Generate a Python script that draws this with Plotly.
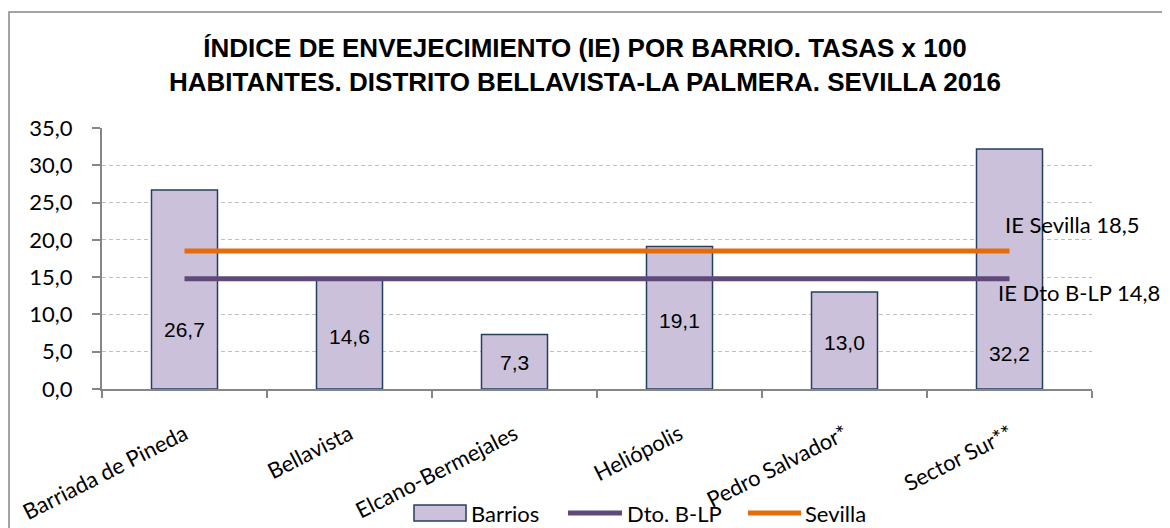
import plotly.graph_objects as go

categories = ["Barriada de Pineda", "Bellavista", "Elcano-Bermejales",
              "Heliópolis", "Pedro Salvador*", "Sector Sur**"]
barrios = [26.7, 14.6, 7.3, 19.1, 13.0, 32.2]
dto_value = 14.8
sevilla_value = 18.5
y_ticks = [0, 5, 10, 15, 20, 25, 30, 35]

# vertical positions (data units) of the value labels inside the bars
label_y = [8.0, 7.1, 3.5, 9.2, 6.2, 4.7]

CAL = "Lato, 'Open Sans', sans-serif"
ARIAL = "'Liberation Sans', Arial, sans-serif"
AXIS_GREY = "#868686"
BAR_FILL = "#CCC1DA"
BAR_LINE = "#243F60"
DTO_COL = "#5F497A"
SEV_COL = "#E46C0A"

# the page body has an 8px margin; layout below is given in page pixels
OFF = 8
W, H = 1170 - OFF, 528 - OFF
PL, PR, PT, PB = 102 - OFF, 1092 - OFF, 128 - OFF, 389 - OFF


def px(xpage):
    return (xpage - OFF - PL) / (PR - PL)


def py(ypage):
    return (PB - (ypage - OFF)) / (PB - PT)


fig = go.Figure()
fig.add_trace(go.Bar(
    x=categories, y=barrios, name="Barrios", width=0.4,
    marker=dict(color=BAR_FILL, line=dict(color=BAR_LINE, width=1.5)),
    showlegend=False,
))
fig.add_trace(go.Scatter(
    x=categories, y=[dto_value] * len(categories), name="Dto. B-LP",
    mode="lines", line=dict(color=DTO_COL, width=5), showlegend=False,
))
fig.add_trace(go.Scatter(
    x=categories, y=[sevilla_value] * len(categories), name="Sevilla",
    mode="lines", line=dict(color=SEV_COL, width=5), showlegend=False,
))

for c, v, ly in zip(categories, barrios, label_y):
    fig.add_annotation(x=c, y=ly, text=f"{v:.1f}".replace(".", ","),
                       showarrow=False, font=dict(family=ARIAL, size=21, color="#000000"),
                       xanchor="center", yanchor="middle")

fig.add_annotation(xref="paper", x=px(1003), y=22.1, xanchor="left", yanchor="middle",
                   text=f"IE Sevilla {sevilla_value:.1f}".replace(".", ","), showarrow=False,
                   font=dict(family=CAL, size=22, color="#000000"))
fig.add_annotation(xref="paper", x=px(996), y=12.9, xanchor="left", yanchor="middle",
                   text=f"IE Dto B-LP {dto_value:.1f}".replace(".", ","), showarrow=False,
                   font=dict(family=CAL, size=22, color="#000000"))

# outer chart border
fig.add_shape(type="rect", xref="paper", yref="paper",
              x0=px(9), x1=px(1200), y0=py(560), y1=py(12),
              line=dict(color=AXIS_GREY, width=1.5), layer="below")

# legend (drawn manually to keep the wide bar swatch)
LEG_Y = 513
fig.add_shape(type="rect", xref="paper", yref="paper",
              x0=px(414), x1=px(466), y0=py(LEG_Y + 8), y1=py(LEG_Y - 8),
              fillcolor=BAR_FILL, line=dict(color=BAR_LINE, width=1.5))
fig.add_annotation(xref="paper", yref="paper", x=px(469), y=py(LEG_Y),
                   xanchor="left", yanchor="middle", text="Barrios", showarrow=False,
                   font=dict(family=CAL, size=22, color="#000000"))
fig.add_shape(type="line", xref="paper", yref="paper",
              x0=px(568), x1=px(622), y0=py(LEG_Y), y1=py(LEG_Y),
              line=dict(color=DTO_COL, width=5))
fig.add_annotation(xref="paper", yref="paper", x=px(625), y=py(LEG_Y),
                   xanchor="left", yanchor="middle", text="Dto. B-LP", showarrow=False,
                   font=dict(family=CAL, size=22, color="#000000"))
fig.add_shape(type="line", xref="paper", yref="paper",
              x0=px(748), x1=px(801), y0=py(LEG_Y), y1=py(LEG_Y),
              line=dict(color=SEV_COL, width=5))
fig.add_annotation(xref="paper", yref="paper", x=px(803), y=py(LEG_Y),
                   xanchor="left", yanchor="middle", text="Sevilla", showarrow=False,
                   font=dict(family=CAL, size=22, color="#000000"))

fig.update_layout(
    width=W, height=H,
    margin=dict(l=PL, r=W - PR, t=PT, b=H - PB, autoexpand=False),
    paper_bgcolor="white", plot_bgcolor="white",
    separators=",.",
    title=dict(text="ÍNDICE DE ENVEJECIMIENTO (IE) POR BARRIO. TASAS x 100<br>"
                    "HABITANTES. DISTRITO BELLAVISTA-LA PALMERA. SEVILLA 2016",
               x=(585 - OFF) / W, xanchor="center", y=1 - 49 / H, yanchor="middle",
               font=dict(family=ARIAL, size=26, color="#000000", weight="bold")),
    showlegend=False,
    bargap=0.6,
)
fig.update_xaxes(
    type="category", range=[-0.5, 5.5], automargin=False,
    showline=True, linecolor=AXIS_GREY, linewidth=2,
    ticks="outside", tickson="boundaries", ticklen=7, tickcolor=AXIS_GREY, tickwidth=2,
    tickangle=-27, ticklabelstandoff=22,
    tickfont=dict(family=CAL, size=22, color="#000000"),
    showgrid=False,
)
fig.update_yaxes(
    range=[0, 35], tickvals=y_ticks, tickformat=".1f", automargin=False,
    showline=True, linecolor=AXIS_GREY, linewidth=2,
    ticks="outside", ticklen=8, tickcolor=AXIS_GREY, tickwidth=2,
    ticklabelstandoff=15,
    tickfont=dict(family=CAL, size=22, color="#000000"),
    showgrid=True, gridcolor="#BFBFBF", gridwidth=1, griddash="4px,3px",
    zeroline=False,
)

fig.write_html("out.html")
